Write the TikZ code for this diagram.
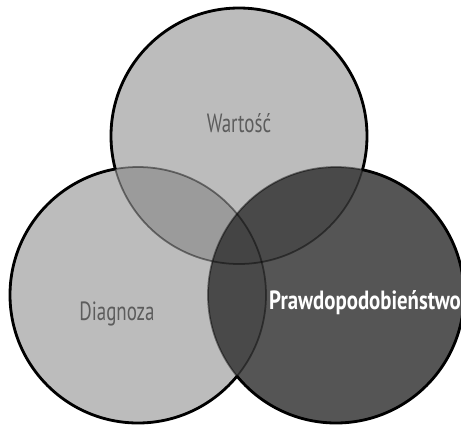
\documentclass[tikz,border=0pt]{standalone}
\usepackage{fontspec}
\setmainfont{PT Sans}
\newfontfamily\setfont{PT Sans}[FakeStretch=0.72]
\newfontfamily\darkfont{PT Sans}[FakeStretch=0.79]
\begin{document}
\begin{tikzpicture}[
        x=0.02cm, y=-0.02cm,
        % styles
        lightset/.style={fill=black!52, fill opacity=0.5},
        darkset/.style={fill=black!80, fill opacity=0.83},
        inner/.style={draw=black, draw opacity=0.45, line width=1pt},
        outline/.style={draw=black, line width=1.6pt},
        setlabel/.style={font=\setfont\fontsize{15}{17}\selectfont, text=black!64},
        darklabel/.style={font=\darkfont\fontsize{15}{17}\selectfont\bfseries, text=white} ]
    \useasboundingbox (0,0) rectangle (461,424);
    \def\rad{128}

    % --- circle centres ---
    \coordinate (wc) at (239,136);
    \coordinate (dc) at (138,295);
    \coordinate (pc) at (336,295);

    % --- fills ---
    \fill [lightset] (wc) circle (\rad);
    \fill [lightset] (dc) circle (\rad);
    \fill [darkset]  (pc) circle (\rad);

    % --- borders seen through the other circles ---
    \draw [inner] (wc) circle (\rad);
    \draw [inner] (dc) circle (\rad);
    \draw [inner] (pc) circle (\rad);

    % --- outer border ---
    \begin{scope}[even odd rule]
        \clip (-20,-20) rectangle (480,450) (dc) circle (\rad);
        \clip (-20,-20) rectangle (480,450) (pc) circle (\rad);
        \draw [outline] (wc) circle (\rad);
    \end{scope}
    \begin{scope}[even odd rule]
        \clip (-20,-20) rectangle (480,450) (wc) circle (\rad);
        \clip (-20,-20) rectangle (480,450) (pc) circle (\rad);
        \draw [outline] (dc) circle (\rad);
    \end{scope}
    \begin{scope}[even odd rule]
        \clip (-20,-20) rectangle (480,450) (wc) circle (\rad);
        \clip (-20,-20) rectangle (480,450) (dc) circle (\rad);
        \draw [outline] (pc) circle (\rad);
    \end{scope}

    % --- labels ---
    \node (wart)  [setlabel]  at (239,123) {Wartość};
    \node (diag)  [setlabel]  at (117,314) {Diagnoza};
    \node (prawd) [darklabel] at (365,303) {Prawdopodobieństwo};

\end{tikzpicture}
\end{document}
